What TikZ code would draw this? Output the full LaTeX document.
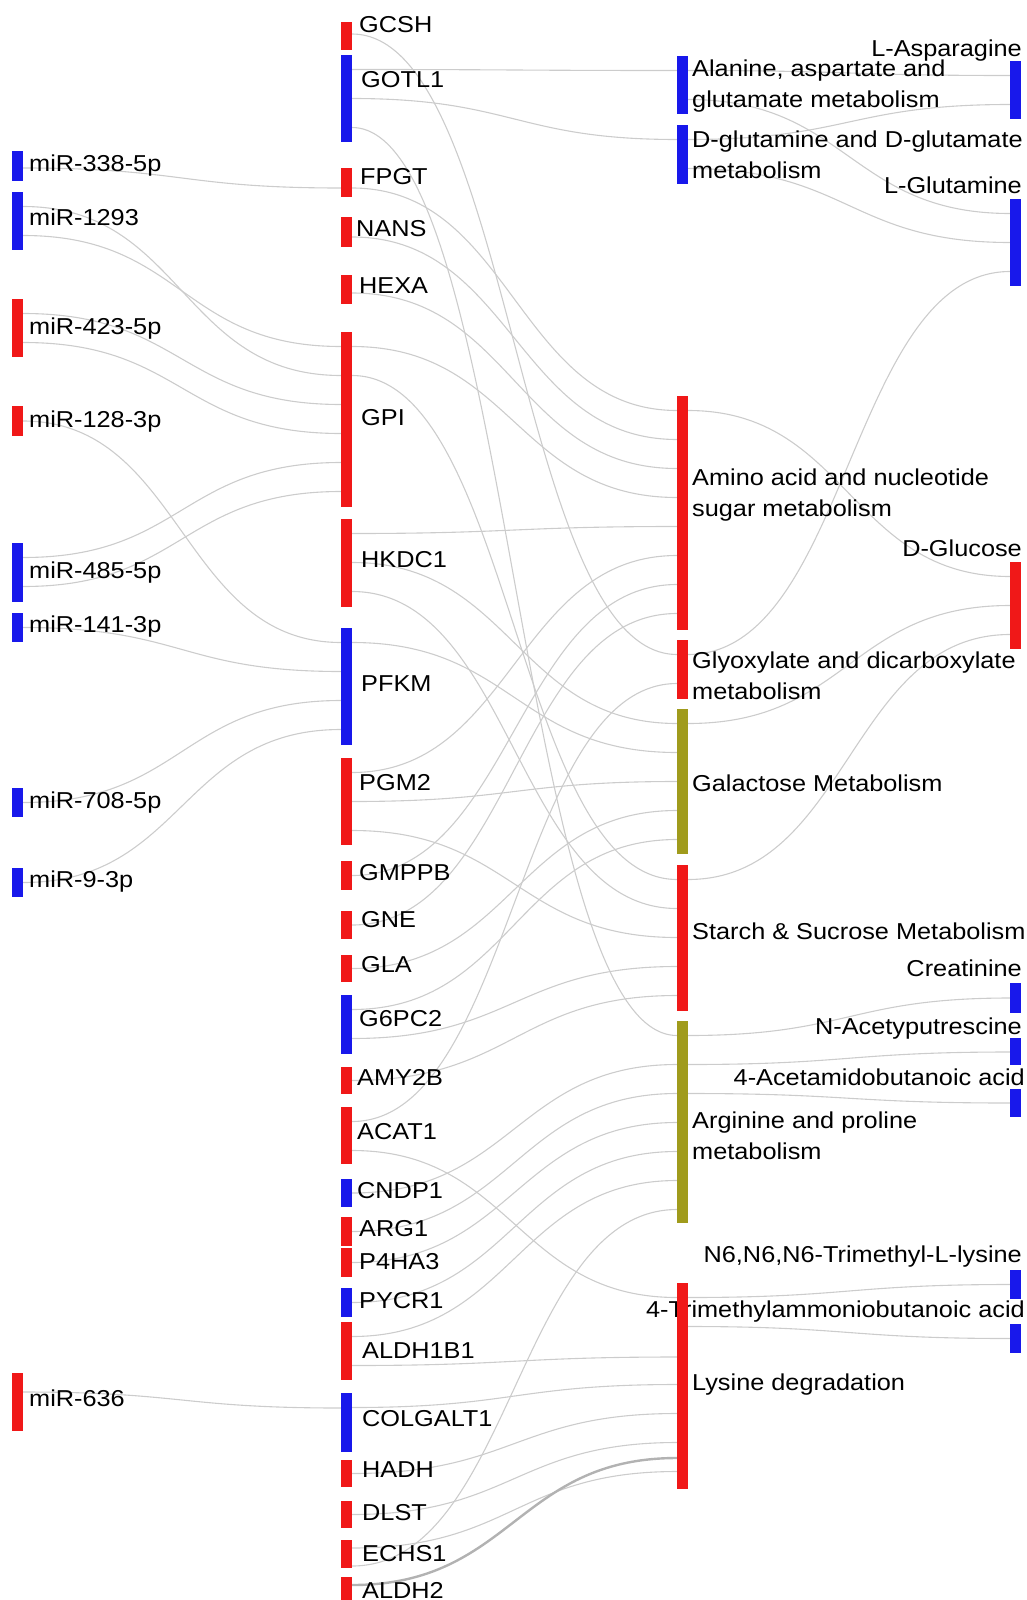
\documentclass[tikz,border=0pt]{standalone}
\usepackage{fontspec}
\setmainfont{Liberation Sans}[FakeStretch=1.1]
\usepackage{tikz}
\usetikzlibrary{calc,backgrounds}

\definecolor{barred}{RGB}{240,24,24}
\definecolor{barblue}{RGB}{24,24,235}
\definecolor{barolive}{RGB}{160,155,28}

% One flow: source bar, offset from its top, target bar, offset from its top.
\newcommand{\flow}[5][]{%
  \draw[link,#1] ($(#2.north east)+(0,#3)$) .. controls +(160,0) and +(-160,0) .. ($(#4.north west)+(0,#5)$);
}

\begin{document}
\begin{tikzpicture}[
  x=1pt,
  y=-1pt,
  every node/.style={font=\fontsize{23}{30.5}\selectfont, inner sep=0pt},
  bar/.style={outer sep=0pt, minimum width=11, anchor=north west},
  redbar/.style={bar, fill=barred},
  bluebar/.style={bar, fill=barblue},
  olivebar/.style={bar, fill=barolive},
  lab/.style={anchor=base west},
  rlab/.style={anchor=base east},
  plab/.style={anchor=west, align=left},
  link/.style={draw=black!20, line width=1.1pt},
]
\path[use as bounding box] (0,0) rectangle (1027,1600);

% miRNA column.
\node[bluebar, minimum height=30] (m338) at (12,151) {};
\node[lab] (m338-t) at (29,171) {miR-338-5p};
\node[bluebar, minimum height=58] (m1293) at (12,192) {};
\node[lab] (m1293-t) at (29,225) {miR-1293};
\node[redbar, minimum height=58] (m423) at (12,299) {};
\node[lab] (m423-t) at (29,334) {miR-423-5p};
\node[redbar, minimum height=30] (m128) at (12,406) {};
\node[lab] (m128-t) at (29,427) {miR-128-3p};
\node[bluebar, minimum height=59] (m485) at (12,543) {};
\node[lab] (m485-t) at (29,578) {miR-485-5p};
\node[bluebar, minimum height=29] (m141) at (12,613) {};
\node[lab] (m141-t) at (29,632) {miR-141-3p};
\node[bluebar, minimum height=29] (m708) at (12,788) {};
\node[lab] (m708-t) at (29,808) {miR-708-5p};
\node[bluebar, minimum height=29] (m9) at (12,868) {};
\node[lab] (m9-t) at (29,887) {miR-9-3p};
\node[redbar, minimum height=58] (m636) at (12,1373) {};
\node[lab] (m636-t) at (29,1406) {miR-636};

% Gene column.
\node[redbar, minimum height=28] (GCSH) at (341,22) {};
\node[lab] (GCSH-t) at (359,33) {GCSH};
\node[bluebar, minimum height=87] (GOTL1) at (341,55) {};
\node[lab] (GOTL1-t) at (361,88) {GOTL1};
\node[redbar, minimum height=29] (FPGT) at (341,168) {};
\node[lab] (FPGT-t) at (360,184) {FPGT};
\node[redbar, minimum height=30] (NANS) at (341,217) {};
\node[lab] (NANS-t) at (356,236) {NANS};
\node[redbar, minimum height=29] (HEXA) at (341,275) {};
\node[lab] (HEXA-t) at (359,293) {HEXA};
\node[redbar, minimum height=175] (GPI) at (341,332) {};
\node[lab] (GPI-t) at (361,425) {GPI};
\node[redbar, minimum height=88] (HKDC1) at (341,519) {};
\node[lab] (HKDC1-t) at (361,567) {HKDC1};
\node[bluebar, minimum height=117] (PFKM) at (341,628) {};
\node[lab] (PFKM-t) at (361,691) {PFKM};
\node[redbar, minimum height=87] (PGM2) at (341,758) {};
\node[lab] (PGM2-t) at (359,790) {PGM2};
\node[redbar, minimum height=29] (GMPPB) at (341,861) {};
\node[lab] (GMPPB-t) at (359,880) {GMPPB};
\node[redbar, minimum height=28] (GNE) at (341,911) {};
\node[lab] (GNE-t) at (361,927) {GNE};
\node[redbar, minimum height=27] (GLA) at (341,955) {};
\node[lab] (GLA-t) at (361,972) {GLA};
\node[bluebar, minimum height=59] (G6PC2) at (341,995) {};
\node[lab] (G6PC2-t) at (359,1026) {G6PC2};
\node[redbar, minimum height=27] (AMY2B) at (341,1067) {};
\node[lab] (AMY2B-t) at (357,1085) {AMY2B};
\node[redbar, minimum height=57] (ACAT1) at (341,1107) {};
\node[lab] (ACAT1-t) at (357,1139) {ACAT1};
\node[bluebar, minimum height=28] (CNDP1) at (341,1179) {};
\node[lab] (CNDP1-t) at (357,1198) {CNDP1};
\node[redbar, minimum height=29] (ARG1) at (341,1217) {};
\node[lab] (ARG1-t) at (359,1236) {ARG1};
\node[redbar, minimum height=29] (P4HA3) at (341,1248) {};
\node[lab] (P4HA3-t) at (359,1269) {P4HA3};
\node[bluebar, minimum height=29] (PYCR1) at (341,1288) {};
\node[lab] (PYCR1-t) at (359,1308) {PYCR1};
\node[redbar, minimum height=58] (ALDH1B1) at (341,1322) {};
\node[lab] (ALDH1B1-t) at (362,1358) {ALDH1B1};
\node[bluebar, minimum height=59] (COLGALT1) at (341,1393) {};
\node[lab] (COLGALT1-t) at (362,1426) {COLGALT1};
\node[redbar, minimum height=27] (HADH) at (341,1460) {};
\node[lab] (HADH-t) at (362,1477) {HADH};
\node[redbar, minimum height=27] (DLST) at (341,1501) {};
\node[lab] (DLST-t) at (362,1520) {DLST};
\node[redbar, minimum height=28] (ECHS1) at (341,1540) {};
\node[lab] (ECHS1-t) at (362,1561) {ECHS1};
\node[redbar, minimum height=40] (ALDH2) at (341,1577) {};
\node[lab] (ALDH2-t) at (362,1598) {ALDH2};

% Metabolite column (labels may run under the pathway bars).
\node[bluebar, minimum height=58] (Lasp) at (1010,61) {};
\node[rlab] (Lasp-t) at (1022,57) {L-Asparagine};
\node[bluebar, minimum height=87] (Lglu) at (1010,199) {};
\node[rlab] (Lglu-t) at (1022,193) {L-Glutamine};
\node[redbar, minimum height=87] (Dglc) at (1010,562) {};
\node[rlab] (Dglc-t) at (1022,556) {D-Glucose};
\node[bluebar, minimum height=30] (Creat) at (1010,983) {};
\node[rlab] (Creat-t) at (1022,976) {Creatinine};
\node[bluebar, minimum height=27] (NAcP) at (1010,1038) {};
\node[rlab] (NAcP-t) at (1022,1034) {N-Acetyputrescine};
\node[bluebar, minimum height=28] (Acet) at (1010,1089) {};
\node[rlab] (Acet-t) at (1025,1085) {4-Acetamidobutanoic acid};
\node[bluebar, minimum height=29] (TMLys) at (1010,1270) {};
\node[rlab] (TMLys-t) at (1022,1262) {N6,N6,N6-Trimethyl-L-lysine};
\node[bluebar, minimum height=29] (TMAB) at (1010,1324) {};
\node[rlab] (TMAB-t) at (1025,1317) {4-Trimethylammoniobutanoic acid};

% Pathway column.
\node[bluebar, minimum height=58] (Ala) at (677,56) {};
\node[plab] (Ala-t) at (692,86) {Alanine, aspartate and\\glutamate metabolism};
\node[bluebar, minimum height=59] (Dglu) at (677,125) {};
\node[plab] (Dglu-t) at (692,155) {D-glutamine and D-glutamate\\metabolism};
\node[redbar, minimum height=234] (Amino) at (677,396) {};
\node[plab] (Amino-t) at (692,495) {Amino acid and nucleotide\\sugar metabolism};
\node[redbar, minimum height=59] (Glyox) at (677,640) {};
\node[plab] (Glyox-t) at (692,676) {Glyoxylate and dicarboxylate\\metabolism};
\node[olivebar, minimum height=145] (Galac) at (677,709) {};
\node[lab] (Galac-t) at (692,791) {Galactose Metabolism};
\node[redbar, minimum height=146] (Starch) at (677,865) {};
\node[lab] (Starch-t) at (692,939) {Starch \& Sucrose Metabolism};
\node[olivebar, minimum height=202] (Argin) at (677,1021) {};
\node[plab] (Argin-t) at (692,1136) {Arginine and proline\\metabolism};
\node[redbar, minimum height=206] (Lys) at (677,1283) {};
\node[lab] (Lys-t) at (692,1390) {Lysine degradation};

\begin{pgfonlayer}{background}
% miRNA to gene.
\flow{m338}{17}{FPGT}{20}
\flow{m1293}{14.5}{GPI}{43.5}
\flow{m1293}{43.5}{GPI}{14.5}
\flow{m423}{14.5}{GPI}{72.5}
\flow{m423}{43.5}{GPI}{101.5}
\flow{m128}{15}{PFKM}{14.5}
\flow{m485}{14.5}{GPI}{130.5}
\flow{m485}{43.5}{GPI}{159.5}
\flow{m141}{14.5}{PFKM}{43.5}
\flow{m708}{14.5}{PFKM}{72.5}
\flow{m9}{14.5}{PFKM}{101.5}
\flow{m636}{19}{COLGALT1}{15}

% Gene to pathway.
\flow{GCSH}{12}{Glyox}{14.5}
\flow{GOTL1}{14.5}{Ala}{14.5}
\flow{GOTL1}{43.5}{Dglu}{14.5}
\flow{GOTL1}{72.5}{Argin}{14.5}
\flow{FPGT}{20}{Amino}{14.5}
\flow{NANS}{20}{Amino}{43.5}
\flow{HEXA}{18}{Amino}{72.5}
\flow{GPI}{14.5}{Amino}{101.5}
\flow{GPI}{43.5}{Starch}{14.5}
\flow{HKDC1}{14.5}{Amino}{130.5}
\flow{HKDC1}{43.5}{Galac}{14.5}
\flow{HKDC1}{72.5}{Starch}{43.5}
\flow{PFKM}{14.5}{Galac}{43.5}
\flow{PGM2}{14.5}{Amino}{159.5}
\flow{PGM2}{43.5}{Galac}{72.5}
\flow{PGM2}{72.5}{Starch}{72.5}
\flow{GMPPB}{14.5}{Amino}{188.5}
\flow{GNE}{14}{Amino}{217.5}
\flow{GLA}{13.5}{Galac}{101.5}
\flow{G6PC2}{14.5}{Galac}{130.5}
\flow{G6PC2}{43.5}{Starch}{101.5}
\flow{AMY2B}{13.5}{Starch}{130.5}
\flow{ACAT1}{14.5}{Glyox}{43.5}
\flow{ACAT1}{43.5}{Lys}{14.5}
\flow{CNDP1}{14}{Argin}{43.5}
\flow{ARG1}{14.5}{Argin}{72.5}
\flow{P4HA3}{14.5}{Argin}{101.5}
\flow{PYCR1}{14.5}{Argin}{130.5}
\flow{ALDH1B1}{14.5}{Argin}{159.5}
\flow{ALDH1B1}{43.5}{Lys}{74}
\flow{COLGALT1}{14.5}{Lys}{101.5}
\flow{HADH}{13.5}{Lys}{130.5}
\flow{DLST}{13.5}{Lys}{159.5}
\flow{ECHS1}{8}{Lys}{188.5}
\flow{ECHS1}{26}{Argin}{188.5}
\flow[draw=black!30, line width=2.4pt]{ALDH2}{8}{Lys}{175}

% Pathway to metabolite.
\flow{Ala}{14.5}{Lasp}{14.5}
\flow{Ala}{43.5}{Lglu}{14.5}
\flow{Dglu}{14.5}{Lasp}{43.5}
\flow{Dglu}{43.5}{Lglu}{43.5}
\flow{Glyox}{14.5}{Lglu}{72.5}
\flow{Amino}{14.5}{Dglc}{14.5}
\flow{Galac}{14.5}{Dglc}{43.5}
\flow{Starch}{14.5}{Dglc}{72.5}
\flow{Argin}{14.5}{Creat}{15}
\flow{Argin}{43.5}{NAcP}{14}
\flow{Argin}{72.5}{Acet}{14}
\flow{Lys}{14.5}{TMLys}{14.5}
\flow{Lys}{43.5}{TMAB}{14.5}
\end{pgfonlayer}

\end{tikzpicture}
\end{document}
